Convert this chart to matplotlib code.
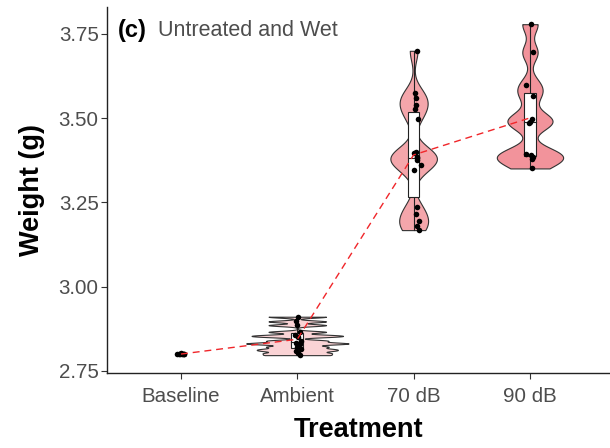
import matplotlib.pyplot as plt
import numpy as np

plt.rcParams['font.family'] = ['Liberation Sans', 'DejaVu Sans']

# ── Data ──────────────────────────────────────────────────────────────────────

treatments = ["Baseline", "Ambient", "70 dB", "90 dB"]

baseline = [2.800, 2.801, 2.799, 2.800, 2.802, 2.799, 2.801, 2.800]
ambient = [2.911, 2.897, 2.886, 2.866, 2.856, 2.852, 2.840, 2.833,
           2.830, 2.822, 2.815, 2.810, 2.803, 2.797]
db70 = [3.700, 3.575, 3.560, 3.540, 3.527, 3.497, 3.400, 3.396, 3.384,
        3.381, 3.376, 3.362, 3.346, 3.238, 3.215, 3.194, 3.180, 3.168]
db90 = [3.779, 3.695, 3.599, 3.567, 3.497, 3.490, 3.485, 3.393,
        3.390, 3.385, 3.380, 3.351]

# horizontal jitter (category units)
jit_base = [-0.03, 0.02, -0.01, 0.03, 0.00, -0.02, 0.01, 0.025]
jit_amb = [0.01, -0.01, 0.00, 0.02, -0.02, 0.01, 0.03, -0.01,
           0.02, 0.00, 0.03, -0.01, 0.01, 0.02]
jit_70 = [0.03, 0.01, 0.02, 0.02, 0.01, 0.04, 0.02, 0.00, 0.03,
          0.025, 0.03, 0.06, 0.00, 0.025, 0.02, 0.045, 0.03, 0.05]
jit_90 = [0.01, 0.03, -0.03, 0.03, 0.02, 0.00, -0.01, -0.03,
          0.01, 0.03, 0.02, 0.02]

groups = [baseline, ambient, db70, db90]
jitters = [jit_base, jit_amb, jit_70, jit_90]

# ── Style ─────────────────────────────────────────────────────────────────────

fills = [None, "#FAD3D5", "#F4A6AB", "#F2939B"]
half_w = [0.0, 0.44, 0.2, 0.285]
adjust = [1.0, 0.16, 0.4, 0.35]


def kde(vals, grid, bw):
    v = np.asarray(vals)[:, None]
    return np.exp(-0.5 * ((grid[None, :] - v) / bw) ** 2).sum(axis=0)


def nrd0(vals):
    v = np.asarray(vals)
    sd = v.std(ddof=1)
    iqr = (np.percentile(v, 75) - np.percentile(v, 25)) / 1.34
    lo = min(sd, iqr) if iqr > 0 else sd
    return 0.9 * lo * len(v) ** (-0.2)


fig = plt.figure(figsize=(6.1, 4.48), dpi=100)
ax = fig.add_axes([107 / 610, 75 / 448, 503 / 610, 366 / 448])

pos = np.arange(1, len(treatments) + 1)

for i, vals in enumerate(groups):
    x0 = pos[i]
    v = np.asarray(vals)
    if fills[i] is not None:
        # violin
        grid = np.linspace(v.min(), v.max(), 600)
        d = kde(v, grid, adjust[i] * nrd0(v))
        d = d / d.max() * half_w[i]
        ax.fill_betweenx(grid, x0 - d, x0 + d, facecolor=fills[i],
                         edgecolor="#333333", linewidth=0.8, zorder=2)
        # boxplot, whiskers to range, no caps
        q1, med, q3 = np.percentile(v, [25, 50, 75])
        ax.plot([x0, x0], [v.min(), q1], color="#222222", lw=0.8, zorder=3)
        ax.plot([x0, x0], [q3, v.max()], color="#222222", lw=0.8, zorder=3)
        bw = 0.05
        ax.add_patch(plt.Rectangle((x0 - bw, q1), 2 * bw, q3 - q1,
                                   facecolor="white", edgecolor="#222222",
                                   lw=0.8, zorder=3))
        ax.plot([x0 - bw, x0 + bw], [med, med], color="#222222", lw=0.8, zorder=3)
    # points
    ax.scatter(x0 + np.asarray(jitters[i]), v, s=16, color="black",
               zorder=4, linewidths=0)

means = [np.mean(g) for g in groups]
ax.plot(pos, means, color="#F0262A", lw=1.0, linestyle=(0, (5, 3.5)), zorder=5)

ax.set_xlim(0.364, 4.688)
ax.set_ylim(2.744, 3.830)
ax.set_xticks(pos)
ax.set_xticklabels(treatments)
ax.set_yticks([2.75, 3.00, 3.25, 3.50, 3.75])
ax.set_yticklabels(["2.75", "3.00", "3.25", "3.50", "3.75"])

for s in ["top", "right"]:
    ax.spines[s].set_visible(False)
for s in ["left", "bottom"]:
    ax.spines[s].set_linewidth(1.0)
    ax.spines[s].set_color("#222222")
ax.tick_params(axis="both", length=4, width=0.8, color="#333333",
               labelsize=14.8, labelcolor="#4D4D4D")
ax.tick_params(axis="x", pad=6)
ax.tick_params(axis="y", pad=2)

ax.set_xlabel("Treatment", fontsize=19.5, fontweight="bold", labelpad=8)
ax.set_ylabel("Weight (g)", fontsize=19.5, fontweight="bold", labelpad=10)

ax.text(0.021, 0.937, "(c)", transform=ax.transAxes, fontsize=17,
        fontweight="bold", va="center", ha="left")
ax.text(0.101, 0.937, "Untreated and Wet", transform=ax.transAxes,
        fontsize=15.5, color="#4D4D4D", va="center", ha="left")

fig.savefig("out.png", dpi=100)
